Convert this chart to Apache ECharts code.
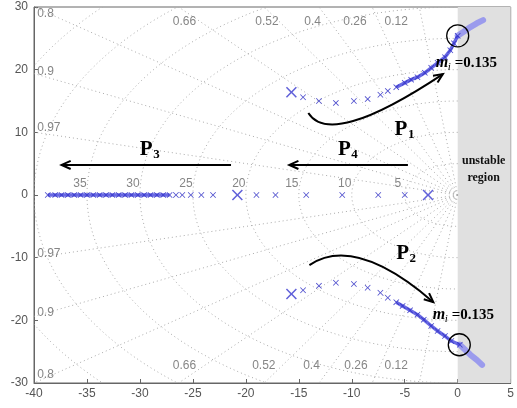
<!DOCTYPE html>
<html><head><meta charset="utf-8">
<script src="https://cdn.jsdelivr.net/npm/echarts/dist/echarts.min.js"></script>
<style>html,body{margin:0;padding:0;background:#fff}#c{width:517px;height:408px}</style>
</head><body><div id="c"></div>
<script>
// ---- grid (sgrid) definitions ----
const dampingRatios = [0.12, 0.26, 0.4, 0.52, 0.66, 0.8, 0.9, 0.97];
const naturalFreqs = [5, 10, 15, 20, 25, 30, 35, 40, 45, 50];
const freqLabels = [5, 10, 15, 20, 25, 30, 35];
const topDampLabels = ['0.66', '0.52', '0.4', '0.26', '0.12'];
const topDampX = [-25.8, -18.0, -13.7, -9.7, -5.8];
const botDampX = [-25.8, -18.3, -13.8, -9.6, -5.8];
const sideDampLabels = ['0.8', '0.9', '0.97'];
const sideDampYUp = [29.0, 19.6, 10.7];
const sideDampYDn = [-28.7, -18.8, -9.3];

// ---- root locus branches ----
const branch1X = [-15.7, -14.6, -13.1, -11.5, -9.8, -8.5, -7.3, -6.6, -5.8, -5.0, -4.4, -3.8, -3.1, -2.5, -1.9, -1.2, -0.7, -0.35, 0];
const branch1Y = [16.4, 15.6, 15.0, 14.7, 15.0, 15.3, 16.0, 16.6, 17.2, 17.9, 18.4, 18.8, 19.5, 20.3, 21.1, 22.0, 23.1, 24.2, 25.4];
const branch2X = [-15.7, -14.6, -13.1, -11.5, -9.8, -8.5, -7.3, -6.6, -5.8, -5.2, -4.5, -3.8, -3.2, -2.5, -1.9, -1.2, -0.6, 0.2];
const branch2Y = [-15.8, -15.2, -14.5, -14.0, -14.2, -14.8, -15.6, -16.4, -17.1, -17.7, -18.4, -19.1, -19.9, -20.9, -21.7, -22.5, -23.3, -23.9];
const trail1X = [0, 0.6, 1.2, 1.8, 2.4];
const trail1Y = [25.4, 26.1, 26.8, 27.4, 27.9];
const trail2X = [0.2, 0.7, 1.2, 1.8, 2.3];
const trail2Y = [-23.9, -24.7, -25.5, -26.3, -27.1];
const realP4X = [-2.8, -5.0, -7.5, -10.9, -14.3, -17.2, -19.0];
const realP3X = [-20.8, -23.1, -24.2, -25.2, -26.0, -26.6, -27.2, -27.8, -28.4, -29.0, -29.6, -30.2, -30.8, -31.4, -32.0, -32.6, -33.2, -33.8, -34.4, -35.0, -35.6, -36.2, -36.8, -37.4, -38.0, -38.7];
const polesX = [-15.7, -15.7, -20.8, -2.8];
const polesY = [16.4, -15.8, 0, 0];
const unstableRange = [0, 5];

const zip = (xs, ys) => xs.map((x, i) => [x, ys[i]]);

// grid polylines
const gridLines = [];
dampingRatios.forEach(z => {
  const s = Math.sqrt(1 - z * z);
  gridLines.push([[0, 0], [-80 * z, 80 * s]]);
  gridLines.push([[0, 0], [-80 * z, -80 * s]]);
});
naturalFreqs.forEach(w => {
  const pts = [];
  for (let k = 0; k <= 90; k++) {
    const t = Math.PI / 2 + Math.PI * k / 90;
    pts.push([w * Math.cos(t), w * Math.sin(t)]);
  }
  gridLines.push(pts);
});

const XSYM = 'path://M1,0L5,4L9,0L10,1L6,5L10,9L9,10L5,6L1,10L0,9L4,5L0,1Z';
const BLUE = '#2f2fc4';
const labelColor = '#666';

const chart = echarts.init(document.getElementById('c'), null, {renderer: 'canvas'});

const textSeries = (data, opts) => ({
  type: 'scatter', symbolSize: 0, silent: true, z: 3,
  data: data,
  label: Object.assign({show: true, position: 'inside', color: labelColor, fontSize: 12,
    fontFamily: 'Liberation Sans, Arial, sans-serif', formatter: p => p.data[2]}, opts)
});

chart.setOption({
  animation: false,
  grid: {left: 34, right: 4, top: 7, bottom: 25, show: true, borderColor: '#666', borderWidth: 1, backgroundColor: 'transparent'},
  xAxis: {type: 'value', min: -40, max: 5, interval: 5,
    axisLine: {show: true, onZero: false, lineStyle: {color: '#666'}},
    axisTick: {show: true, inside: true, length: 4, lineStyle: {color: '#666'}},
    axisLabel: {color: '#555', fontSize: 12, margin: 5, fontFamily: 'Liberation Sans, Arial, sans-serif'},
    splitLine: {show: false}},
  yAxis: {type: 'value', min: -30, max: 30, interval: 10,
    axisLine: {show: true, onZero: false, lineStyle: {color: '#666'}},
    axisTick: {show: true, inside: true, length: 4, lineStyle: {color: '#666'}},
    axisLabel: {color: '#555', fontSize: 12, margin: 6, fontFamily: 'Liberation Sans, Arial, sans-serif'},
    splitLine: {show: false}},
  series: [
    {type: 'line', data: [], z: 0, silent: true,
     markArea: {silent: true, itemStyle: {color: '#e0e0e0'},
       data: [[{xAxis: unstableRange[0]}, {xAxis: unstableRange[1]}]]}},
    {type: 'custom', z: 1, silent: true,
     data: gridLines.map((l, i) => [i]),
     renderItem: (params, api) => {
       const pts = gridLines[params.dataIndex].map(p => api.coord(p));
       const cs = params.coordSys;
       return {type: 'polyline', shape: {points: pts},
         style: {stroke: '#aaa', lineWidth: 1, lineDash: [1, 3], fill: null},
         clipPath: {type: 'rect', shape: {x: cs.x, y: cs.y, width: cs.width, height: cs.height}}};
     }},
    textSeries(freqLabels.map(w => [-w, 0, String(w)]), {offset: [-7, -11]}),
    textSeries(topDampLabels.map((t, i) => [topDampX[i], 27.6, t]), {}),
    textSeries(topDampLabels.map((t, i) => [botDampX[i], -27.3, t]), {}),
    textSeries(sideDampLabels.map((t, i) => [-39.7, sideDampYUp[i], t]), {align: 'left'}),
    textSeries(sideDampLabels.map((t, i) => [-39.7, sideDampYDn[i], t]), {align: 'left'}),
    // trails (beyond crossing)
    {type: 'line', z: 4, symbol: 'none', data: zip(trail1X, trail1Y), lineStyle: {color: '#8a8af0', width: 6, cap: 'round', opacity: 0.8}},
    {type: 'line', z: 4, symbol: 'none', data: zip(trail2X, trail2Y), lineStyle: {color: '#8a8af0', width: 6, cap: 'round', opacity: 0.8}},
    // dense parts
    {type: 'line', z: 5, symbol: 'none', data: zip(branch1X.slice(8), branch1Y.slice(8)), lineStyle: {color: '#4444dd', width: 3.5, opacity: 0.8}},
    {type: 'line', z: 5, symbol: 'none', data: zip(branch2X.slice(8), branch2Y.slice(8)), lineStyle: {color: '#4444dd', width: 3.5, opacity: 0.8}},
    {type: 'line', z: 5, symbol: 'none', data: realP3X.slice(6).map(x => [x, 0]), lineStyle: {color: '#4444dd', width: 3.5, opacity: 0.8}},
    // markers
    {type: 'scatter', z: 6, symbol: XSYM, symbolSize: 6, itemStyle: {color: BLUE, opacity: 0.85},
     data: zip(branch1X.slice(1), branch1Y.slice(1)).concat(zip(branch2X.slice(1), branch2Y.slice(1)), realP4X.slice(1).map(x => [x, 0]), realP3X.slice(1).map(x => [x, 0]))},
    {type: 'scatter', z: 7, symbol: XSYM, symbolSize: 11, itemStyle: {color: '#3a3ad0'},
     data: zip(polesX, polesY)}
  ]
});

// ---- annotations (anchored in data coordinates) ----
const ann = {
  arrowP3: [[-21.4, 4.8], [-37.4, 4.8]],
  arrowP4: [[-4.7, 4.8], [-15.9, 4.8]],
  curveP1: [[-14.1, 13.1], [-12.0, 7.4], [-1.4, 19.3]],
  curveP2: [[-14.0, -11.2], [-9.7, -6.3], [-2.3, -17.1]],
  rings: [[0, 25.4], [0.15, -23.9]],
  P: [['1', -5.35, 10.4], ['4', -10.7, 7.2], ['3', -29.4, 7.2], ['2', -5.2, -9.4]],
  mi: [[-2.07, 21.1], [-2.35, -19.1]],
  unstable: [2.45, 5.4], region: [2.45, 2.7]
};
const px = p => chart.convertToPixel({gridIndex: 0}, p);
const serif = '"Liberation Serif", "Times New Roman", serif';
const g = [];
function head(tip, from) {
  const dx = tip[0] - from[0], dy = tip[1] - from[1];
  const L = Math.hypot(dx, dy), ux = dx / L, uy = dy / L, len = 10, a = 0.42;
  const c = Math.cos(a), s = Math.sin(a);
  const p1 = [tip[0] - len * (ux * c - uy * s), tip[1] - len * (uy * c + ux * s)];
  const p2 = [tip[0] - len * (ux * c + uy * s), tip[1] - len * (uy * c - ux * s)];
  return {type: 'polyline', z: 100, shape: {points: [p1, tip, p2]}, style: {stroke: '#000', lineWidth: 2, fill: null}};
}
[ann.arrowP3, ann.arrowP4].forEach(a => {
  const s = px(a[0]), e = px(a[1]);
  g.push({type: 'line', z: 100, shape: {x1: s[0], y1: s[1], x2: e[0], y2: e[1]}, style: {stroke: '#000', lineWidth: 2}});
  g.push(head(e, s));
});
[ann.curveP1, ann.curveP2].forEach(a => {
  const s = px(a[0]), c = px(a[1]), e = px(a[2]);
  g.push({type: 'bezierCurve', z: 100, shape: {x1: s[0], y1: s[1], cpx1: c[0], cpy1: c[1], x2: e[0], y2: e[1]}, style: {stroke: '#000', lineWidth: 2, fill: null}});
  g.push(head(e, c));
});
ann.rings.forEach(r => {
  const p = px(r);
  g.push({type: 'circle', z: 100, shape: {cx: p[0], cy: p[1], r: 11}, style: {stroke: '#000', lineWidth: 1.3, fill: null}});
});
ann.P.forEach(([sub, x, y]) => {
  const p = px([x, y]);
  g.push({type: 'text', z: 100, x: p[0], y: p[1], style: {text: 'P', font: 'bold 21px ' + serif, fill: '#000', textAlign: 'center', textVerticalAlign: 'middle'}});
  g.push({type: 'text', z: 100, x: p[0] + 7, y: p[1] + 5, style: {text: sub, font: 'bold 13px ' + serif, fill: '#000', textAlign: 'left', textVerticalAlign: 'middle'}});
});
ann.mi.forEach(m => {
  const p = px(m);
  g.push({type: 'text', z: 100, x: p[0], y: p[1], style: {text: 'm', font: 'italic bold 16px ' + serif, fill: '#000', textAlign: 'left', textVerticalAlign: 'middle'}});
  g.push({type: 'text', z: 100, x: p[0] + 12, y: p[1] + 4, style: {text: 'i', font: 'italic 11px ' + serif, fill: '#000', textAlign: 'left', textVerticalAlign: 'middle'}});
  g.push({type: 'text', z: 100, x: p[0] + 19, y: p[1], style: {text: '=0.135', font: 'bold 15px ' + serif, fill: '#000', textAlign: 'left', textVerticalAlign: 'middle'}});
});
[[ann.unstable, 'unstable'], [ann.region, 'region']].forEach(([pos, t]) => {
  const p = px(pos);
  g.push({type: 'text', z: 100, x: p[0], y: p[1], style: {text: t, font: 'bold 12px ' + serif, fill: '#111', textAlign: 'center', textVerticalAlign: 'middle'}});
});
chart.setOption({graphic: g});
</script>
</body></html>
